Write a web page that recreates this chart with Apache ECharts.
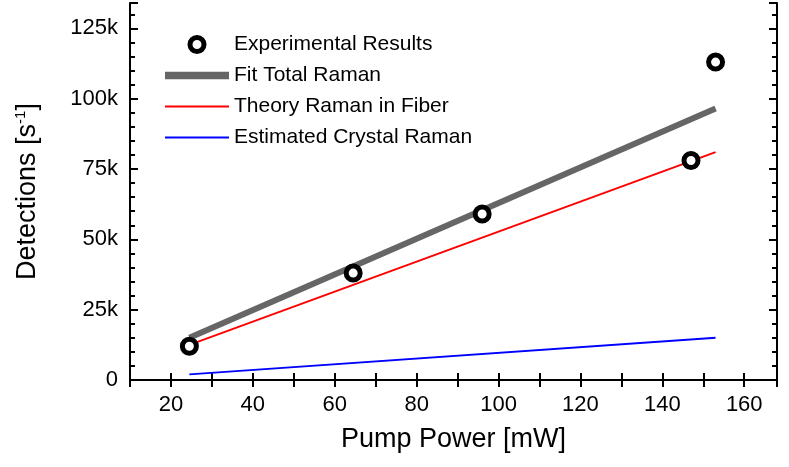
<!DOCTYPE html><html><head><meta charset="utf-8">
<script src="https://cdn.jsdelivr.net/npm/echarts@6/dist/echarts.min.js"></script>
<style>html,body{margin:0;background:#fff}#c{width:789px;height:467px}</style></head><body><div id="c"></div><script>
const expX=[24.5,64.5,96,147,153];
const expY=[12000,38000,59000,78000,113000];
const fitX=[24.5,153], fitY=[15000,96500];
const theoX=[24.5,153], theoY=[12500,81000];
const crysX=[24.5,153], crysY=[2000,15000];
const zip=(a,b)=>a.map((v,i)=>[v,b[i]]);
const F='Liberation Sans';
const L={color:'#000',width:2};
const c=echarts.init(document.getElementById('c'));
c.setOption({animation:false,
 grid:{left:130,right:12,top:3,bottom:87},
 xAxis:[{type:'value',min:10,max:168,interval:10,name:'Pump Power [mW]',nameLocation:'middle',nameGap:46,
  nameTextStyle:{fontFamily:F,fontSize:27,color:'#000'},axisLine:{show:true,onZero:false,lineStyle:L},
  axisTick:{inside:true,length:7,lineStyle:L},splitLine:{show:false},
  axisLabel:{color:'#000',fontFamily:F,fontSize:22,margin:14,showMaxLabel:false,formatter:v=>v%20===0&&v>=20&&v<=160?String(v):''}},
  {type:'value',position:'top',min:10,max:168,interval:10,axisLine:{show:true,lineStyle:L},axisTick:{inside:true,length:7,lineStyle:L},axisLabel:{show:false},splitLine:{show:false}}],
 yAxis:[{type:'value',min:0,max:134000,interval:25000,axisLine:{show:true,onZero:false,lineStyle:L},axisTick:{inside:true,length:8,lineStyle:L},
  minorTick:{show:true,splitNumber:5,length:5,lineStyle:L},splitLine:{show:false},
  name:'{a|Detections [s}{s|-1}{a|]}',nameLocation:'middle',nameGap:88,nameRotate:90,
  nameTextStyle:{rich:{a:{fontFamily:F,fontSize:27,color:'#000'},s:{fontFamily:F,fontSize:15,color:'#000',verticalAlign:'top',padding:[0,0,14,0]}}},
  axisLabel:{color:'#000',fontFamily:F,fontSize:22,margin:12,showMaxLabel:false,formatter:v=>v===0?'0':(v%25000===0?(v/1000)+'k':'')}},
  {type:'value',position:'right',min:0,max:134000,interval:25000,axisLine:{show:true,lineStyle:L},axisTick:{inside:true,length:8,lineStyle:L},minorTick:{show:true,splitNumber:5,length:5,lineStyle:L},axisLabel:{show:false},splitLine:{show:false}}],
 legend:{left:160,top:29,orient:'vertical',itemGap:10,itemWidth:64,itemHeight:14,textStyle:{fontFamily:F,fontSize:21,color:'#000'},
  data:[{name:'Experimental Results',icon:'circle',itemStyle:{color:'#fff',borderColor:'#000',borderWidth:5}},
   {name:'Fit Total Raman',icon:'path://M0,0h60v7h-60z'},
   {name:'Theory Raman in Fiber',icon:'path://M0,0h64v2h-64z'},
   {name:'Estimated Crystal Raman',icon:'path://M0,0h64v2h-64z'}]},
 series:[
  {name:'Fit Total Raman',type:'line',data:zip(fitX,fitY),symbol:'none',lineStyle:{color:'#666',width:6},itemStyle:{color:'#666'}},
  {name:'Theory Raman in Fiber',type:'line',data:zip(theoX,theoY),symbol:'none',lineStyle:{color:'#ff0000',width:2},itemStyle:{color:'#ff0000'}},
  {name:'Estimated Crystal Raman',type:'line',data:zip(crysX,crysY),symbol:'none',lineStyle:{color:'#0000ff',width:2},itemStyle:{color:'#0000ff'}},
  {name:'Experimental Results',type:'scatter',data:zip(expX,expY),symbol:'circle',symbolSize:14,z:5,
   itemStyle:{color:'#fff',borderColor:'#000',borderWidth:5,opacity:1}}
 ]});
</script></body></html>
